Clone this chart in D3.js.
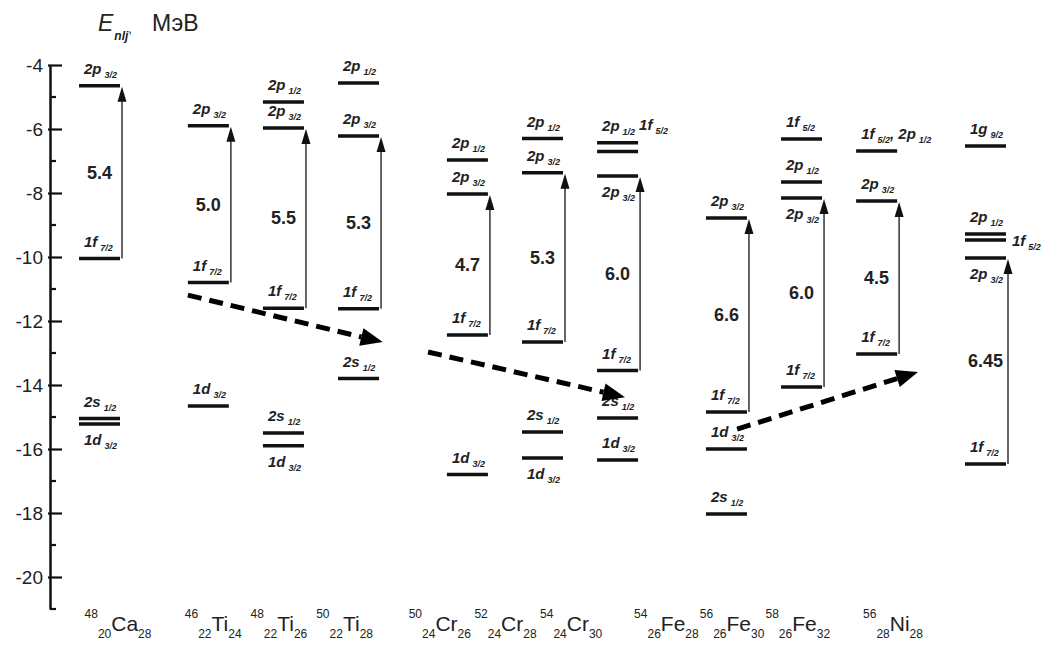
<!DOCTYPE html>
<html lang="ru">
<head>
  <meta charset="utf-8">
  <script src="https://cdn.jsdelivr.net/npm/d3@7"></script>
  <style>
    body { margin: 0; background: #fff; }
    text { font-family: "Liberation Sans", Arial, sans-serif; fill: #222; }
    .level { stroke: #111; stroke-width: 3.5; }
    .gap-arrow { stroke: #333; stroke-width: 1.5; }
    .shift { stroke: #000; stroke-width: 5; stroke-dasharray: 14,8; fill: none; }
    .state { font-weight: bold; font-style: italic; font-size: 15px; }
    .gap-label { font-weight: bold; font-size: 18px; }
  </style>
</head>
<body>
<script>
  // nuclei, left to right
  var nuclei = ["Ca48", "Ti46", "Ti48", "Ti50", "Cr50", "Cr52", "Cr54", "Fe54", "Fe56", "Fe58", "Ni56"];
  var nucleusGroup = [0, 1, 1, 1, 2, 2, 2, 3, 3, 3, 4];
  var massNumbers = ["48", "46", "48", "50", "50", "52", "54", "54", "56", "58", "56"];
  var protonNumbers = ["20", "22", "22", "22", "24", "24", "24", "26", "26", "26", "28"];
  var elements = ["Ca", "Ti", "Ti", "Ti", "Cr", "Cr", "Cr", "Fe", "Fe", "Fe", "Ni"];
  var neutronNumbers = ["28", "24", "26", "28", "26", "28", "30", "28", "30", "32", "28"];

  // single-particle levels, E in MeV
  var levelsCa48 = [["2p3/2", -4.65], ["1f7/2", -10.05], ["2s1/2", -15.05], ["1d3/2", -15.22]];
  var levelsTi46 = [["2p3/2", -5.9], ["1f7/2", -10.8], ["1d3/2", -14.66]];
  var levelsTi48 = [["2p1/2", -5.16], ["2p3/2", -5.97], ["1f7/2", -11.6], ["2s1/2", -15.5], ["1d3/2", -15.9]];
  var levelsTi50 = [["2p1/2", -4.56], ["2p3/2", -6.22], ["1f7/2", -11.62], ["2s1/2", -13.8]];
  var levelsCr50 = [["2p1/2", -6.97], ["2p3/2", -8.03], ["1f7/2", -12.44], ["1d3/2", -16.8]];
  var levelsCr52 = [["2p1/2", -6.3], ["2p3/2", -7.37], ["1f7/2", -12.66], ["2s1/2", -15.47], ["1d3/2", -16.28]];
  var levelsCr54 = [["2p1/2", -6.43], ["1f5/2", -6.7], ["2p3/2", -7.47], ["1f7/2", -13.55], ["2s1/2", -15.03], ["1d3/2", -16.34]];
  var levelsFe54 = [["2p3/2", -8.78], ["1f7/2", -14.84], ["1d3/2", -16.0], ["2s1/2", -18.03]];
  var levelsFe56 = [["1f5/2", -6.31], ["2p1/2", -7.66], ["2p3/2", -8.16], ["1f7/2", -14.06]];
  var levelsFe58 = [["1f5/2, 2p1/2", -6.69], ["2p3/2", -8.25], ["1f7/2", -13.03]];
  var levelsNi56 = [["1g9/2", -6.53], ["2p1/2", -9.28], ["1f5/2", -9.47], ["2p3/2", -10.03], ["1f7/2", -16.47]];

  // 1f7/2 -> 2p3/2 gap, MeV
  var gapValues = ["5.4", "5.0", "5.5", "5.3", "4.7", "5.3", "6.0", "6.6", "6.0", "4.5", "6.45"];

  // labels drawn under their bar, or to the side
  var labelsBelow = ["Ca48 1d3/2", "Ti48 1d3/2", "Cr52 1d3/2", "Cr54 2p3/2", "Fe56 2p3/2", "Ni56 2p3/2"];
  var labelsRight = ["Ni56 1f5/2"];
  var labelsAboveRight = ["Cr54 1f5/2"];

  // dashed trend arrows: [nucleus, offset in bar widths, E]
  var shiftFrom = [["Ti46", -0.5, -11.19], ["Cr50", -0.96, -12.97], ["Fe54", 0.26, -15.38]];
  var shiftTo = [["Ti50", 0.59, -12.66], ["Cr54", 0.18, -14.38], ["Fe58", 1.01, -13.59]];

  var yTicksMajor = [-4, -6, -8, -10, -12, -14, -16, -18, -20];
  var yTicksMinor = [-5, -7, -9, -11, -13, -15, -17, -19, -21];

  var levelTable = {
    Ca48: levelsCa48, Ti46: levelsTi46, Ti48: levelsTi48, Ti50: levelsTi50,
    Cr50: levelsCr50, Cr52: levelsCr52, Cr54: levelsCr54,
    Fe54: levelsFe54, Fe56: levelsFe56, Fe58: levelsFe58, Ni56: levelsNi56
  };

  var width = 1043, height = 646;
  var barW = 41;

  var svg = d3.select("body").append("svg")
      .attr("width", width)
      .attr("height", height);

  var y = d3.scaleLinear().domain([-4, -21]).range([65, 609]);

  var slotGap = 0.45;
  var slots = nuclei.map((n, i) => i + nucleusGroup[i] * slotGap);
  var slotScale = d3.scaleLinear().domain([0, d3.max(slots)]).range([99.5, 985.5]);
  var x = function(name) { return slotScale(slots[nuclei.indexOf(name)]); };

  // isotope names sit on a slightly compressed scale
  var labelX = d3.scaleLinear().domain(slotScale.range()).range([118, 893]);

  // y axis
  var axisG = svg.append("g").attr("transform", "translate(50,0)");
  axisG.call(d3.axisLeft(y)
      .tickValues(yTicksMajor)
      .tickSize(-12)
      .tickSizeOuter(0)
      .tickPadding(7)
      .tickFormat(d => String(d)));
  axisG.select(".domain").attr("stroke", "#111").attr("stroke-width", 2.5);
  axisG.selectAll(".tick line").attr("stroke", "#111").attr("stroke-width", 2.2).attr("x1", -2);
  axisG.selectAll(".tick text")
      .style("font-family", "'Liberation Sans', Arial, sans-serif")
      .style("font-size", "19px")
      .attr("fill", "#333");

  axisG.append("g").selectAll("line")
    .data(yTicksMinor)
    .enter().append("line")
      .attr("x1", 0).attr("x2", 6)
      .attr("y1", d => y(d)).attr("y2", d => y(d))
      .attr("stroke", "#111").attr("stroke-width", 2.2);

  // axis title
  var title = svg.append("text")
      .attr("x", 98).attr("y", 31)
      .style("font-size", "23px");
  title.append("tspan").style("font-style", "italic").text("E");
  title.append("tspan").attr("dy", 9).attr("dx", 1)
      .style("font-size", "12px").style("font-style", "italic").style("font-weight", "bold").text("nlj");
  title.append("tspan").attr("dy", -7).style("font-size", "13px").text(",");
  title.append("tspan").attr("x", 152).attr("dy", -2).text("МэВ");

  // state label like "2p3/2" -> "2p" with subscript "3/2"
  function writeState(textSel, state) {
    state.split(", ").forEach(function(part, k) {
      var m = part.match(/^(\d[a-z])(\d\/\d)$/);
      textSel.append("tspan").attr("dy", k > 0 ? -4 : null).text((k > 0 ? ", " : "") + m[1]);
      textSel.append("tspan")
        .attr("dx", 3).attr("dy", 4)
        .style("font-size", "9px")
        .text(m[2]);
    });
  }

  var levelG = svg.append("g");

  nuclei.forEach(function(name, i) {
    var cx = x(name);
    var x0 = cx - barW / 2, x1 = cx + barW / 2;
    var lv = levelTable[name];
    var g = levelG.append("g");

    g.selectAll("line.level")
      .data(lv)
      .enter().append("line")
        .attr("class", "level")
        .attr("x1", x0).attr("x2", x1)
        .attr("y1", d => y(d[1])).attr("y2", d => y(d[1]));

    lv.forEach(function(d) {
      var key = name + " " + d[0];
      var tx = x0 + 5, ty = y(d[1]) - 12;
      if (labelsBelow.indexOf(key) >= 0) ty = y(d[1]) + 21;
      if (labelsRight.indexOf(key) >= 0) { tx = x1 + 6; ty = y(d[1]) + 6; }
      if (labelsAboveRight.indexOf(key) >= 0) { tx = x0 + 42; ty = y(d[1]) - 21; }
      var t = g.append("text").attr("class", "state").attr("x", tx).attr("y", ty);
      writeState(t, d[0]);
    });

    // gap arrow 1f7/2 -> 2p3/2
    var lo = lv.find(d => d[0] == "1f7/2")[1];
    var hi = lv.find(d => d[0] == "2p3/2")[1];
    var ax = x1 + 2;
    g.append("line")
      .attr("class", "gap-arrow")
      .attr("x1", ax).attr("x2", ax)
      .attr("y1", y(lo)).attr("y2", y(hi) + 10);
    g.append("path")
      .attr("d", "M" + ax + "," + (y(hi) + 1) + "L" + (ax - 4.5) + "," + (y(hi) + 16) + "L" + (ax + 4.5) + "," + (y(hi) + 16) + "Z")
      .attr("fill", "#111");

    g.append("text")
      .attr("class", "gap-label")
      .attr("x", cx)
      .attr("y", y((lo + hi) / 2))
      .attr("dy", "0.35em")
      .attr("text-anchor", "middle")
      .text(gapValues[i]);

    // isotope name
    var lab = svg.append("text")
      .attr("x", labelX(cx))
      .attr("y", 631)
      .attr("text-anchor", "middle")
      .style("font-size", "21px")
      .attr("fill", "#333");
    lab.append("tspan").attr("dy", -13).style("font-size", "12px").text(massNumbers[i]);
    lab.append("tspan").attr("dy", 20).style("font-size", "12px").text(protonNumbers[i]);
    lab.append("tspan").attr("dy", -7).text(elements[i]);
    lab.append("tspan").attr("dy", 7).style("font-size", "12px").text(neutronNumbers[i]);
  });

  // dashed trend arrows
  var shiftG = svg.append("g");
  shiftFrom.forEach(function(f, k) {
    var t = shiftTo[k];
    var xa = x(f[0]) + f[1] * barW, ya = y(f[2]);
    var xb = x(t[0]) + t[1] * barW, yb = y(t[2]);
    var len = Math.hypot(xb - xa, yb - ya);
    var ux = (xb - xa) / len, uy = (yb - ya) / len;
    var headL = 22, headW = 9;
    var bx = xb - ux * headL, by = yb - uy * headL;
    shiftG.append("line")
      .attr("class", "shift")
      .attr("x1", xa).attr("y1", ya)
      .attr("x2", bx).attr("y2", by);
    shiftG.append("path")
      .attr("d", "M" + xb + "," + yb +
        "L" + (bx - uy * headW) + "," + (by + ux * headW) +
        "L" + (bx + uy * headW) + "," + (by - ux * headW) + "Z")
      .attr("fill", "#000");
  });
</script>
</body>
</html>
